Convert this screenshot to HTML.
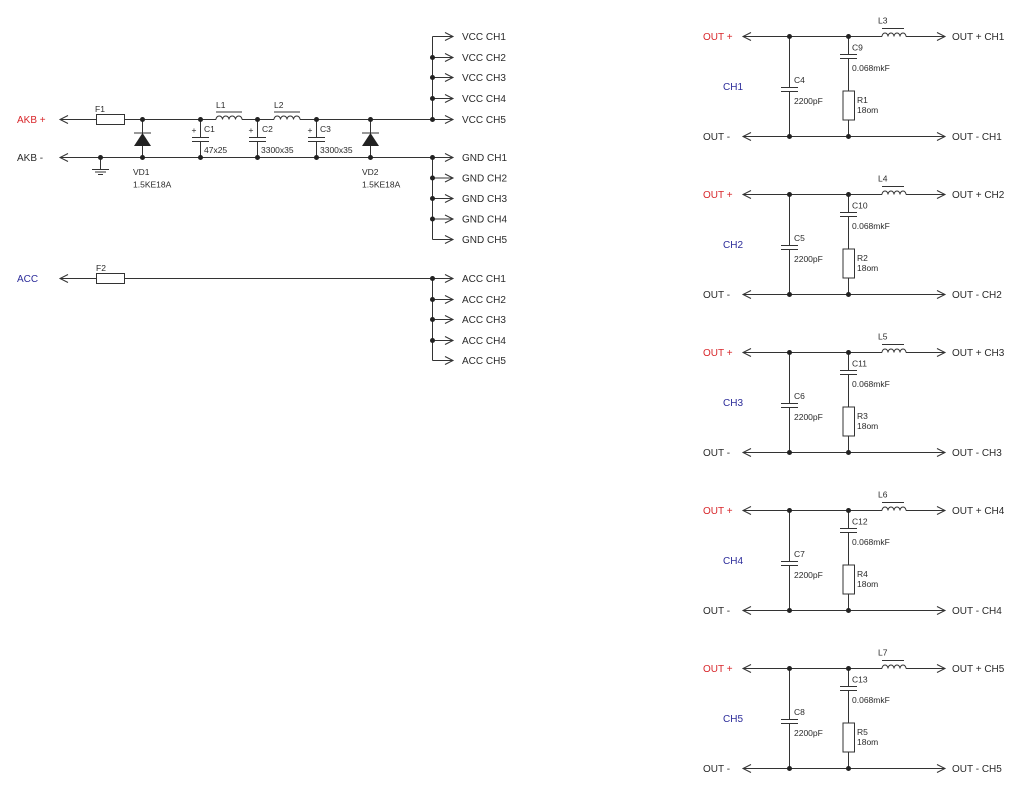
<!DOCTYPE html>
<html><head><meta charset="utf-8"><style>
html,body{margin:0;padding:0;background:#fff;}
svg{display:block;}
.t{font-family:"Liberation Sans",Arial,sans-serif;font-size:10px;fill:#2a2a2a;}
.s{font-family:"Liberation Sans",Arial,sans-serif;font-size:8.5px;fill:#2a2a2a;}
.r{fill:#d8262a;}
.b{fill:#2c2c9a;}
.w{stroke:#333;stroke-width:1;fill:none;}
.d{fill:#222;}
</style></head><body>
<svg width="1024" height="789" viewBox="0 0 1024 789" xmlns="http://www.w3.org/2000/svg">
<!-- ========== LEFT: AKB power ========== -->
<text class="t r" x="17" y="123">AKB +</text>
<text class="t" x="17" y="161">AKB -</text>
<path class="w" d="M68,115.5 L60,119.5 L68,123.5"/>
<path class="w" d="M68,153.5 L60,157.5 L68,161.5"/>
<!-- top line -->
<path class="w" d="M60,119.5 H96.5 M124.5,119.5 H216 M242,119.5 H274 M300,119.5 H432.5"/>
<rect x="96.5" y="114.5" width="28" height="10" fill="#fff" stroke="#333" stroke-width="1"/>
<text class="s" x="95" y="112">F1</text>
<!-- L1 -->
<path class="w" d="M216,119.5 a3.25,3.5 0 0 1 6.5,0 a3.25,3.5 0 0 1 6.5,0 a3.25,3.5 0 0 1 6.5,0 a3.25,3.5 0 0 1 6.5,0"/>
<path class="w" d="M216,112 H242"/>
<text class="s" x="216" y="108">L1</text>
<!-- L2 -->
<path class="w" d="M274,119.5 a3.25,3.5 0 0 1 6.5,0 a3.25,3.5 0 0 1 6.5,0 a3.25,3.5 0 0 1 6.5,0 a3.25,3.5 0 0 1 6.5,0"/>
<path class="w" d="M274,112 H300"/>
<text class="s" x="274" y="108">L2</text>
<!-- bottom line -->
<path class="w" d="M60,157.5 H432.5"/>
<!-- ground -->
<path class="w" d="M100.5,157.5 V169.5 M92,169.5 H109 M95,172 H106 M98,174.5 H103"/>
<!-- VD1 -->
<path class="w" d="M142.5,119.5 V157.5 M134,133 H151"/>
<path class="d" d="M142.5,133 L134,146 L151,146 Z"/>
<text class="s" x="133" y="175">VD1</text>
<text class="s" x="133" y="187.5">1.5KE18A</text>
<!-- VD2 -->
<path class="w" d="M370.5,119.5 V157.5 M362,133 H379"/>
<path class="d" d="M370.5,133 L362,146 L379,146 Z"/>
<text class="s" x="362" y="175">VD2</text>
<text class="s" x="362" y="187.5">1.5KE18A</text>
<!-- C1 -->
<path class="w" d="M200.5,119.5 V137.5 M192,137.5 H209 M192,141.5 H209 M200.5,141.5 V157.5"/>
<text class="s" x="194" y="133" text-anchor="middle">+</text>
<text class="s" x="204" y="132">C1</text>
<text class="s" x="204" y="153">47x25</text>
<!-- C2 -->
<path class="w" d="M257.5,119.5 V137.5 M249,137.5 H266 M249,141.5 H266 M257.5,141.5 V157.5"/>
<text class="s" x="251" y="133" text-anchor="middle">+</text>
<text class="s" x="262" y="132">C2</text>
<text class="s" x="261" y="153">3300x35</text>
<!-- C3 -->
<path class="w" d="M316.5,119.5 V137.5 M308,137.5 H325 M308,141.5 H325 M316.5,141.5 V157.5"/>
<text class="s" x="310" y="133" text-anchor="middle">+</text>
<text class="s" x="320" y="132">C3</text>
<text class="s" x="320" y="153">3300x35</text>
<!-- nodes -->
<g class="d">
<circle cx="142.5" cy="119.5" r="2.5"/><circle cx="200.5" cy="119.5" r="2.5"/><circle cx="257.5" cy="119.5" r="2.5"/><circle cx="316.5" cy="119.5" r="2.5"/><circle cx="370.5" cy="119.5" r="2.5"/>
<circle cx="100.5" cy="157.5" r="2.5"/><circle cx="142.5" cy="157.5" r="2.5"/><circle cx="200.5" cy="157.5" r="2.5"/><circle cx="257.5" cy="157.5" r="2.5"/><circle cx="316.5" cy="157.5" r="2.5"/><circle cx="370.5" cy="157.5" r="2.5"/>
</g>
<!-- VCC bus -->
<path class="w" d="M432.5,36.5 V119.5"/>
<path class="w" d="M432.5,36.5 H453 M445,32.5 L453,36.5 L445,40.5"/>
<path class="w" d="M432.5,57.5 H453 M445,53.5 L453,57.5 L445,61.5"/>
<path class="w" d="M432.5,77.5 H453 M445,73.5 L453,77.5 L445,81.5"/>
<path class="w" d="M432.5,98.5 H453 M445,94.5 L453,98.5 L445,102.5"/>
<path class="w" d="M432.5,119.5 H453 M445,115.5 L453,119.5 L445,123.5"/>
<g class="d"><circle cx="432.5" cy="57.5" r="2.5"/><circle cx="432.5" cy="77.5" r="2.5"/><circle cx="432.5" cy="98.5" r="2.5"/><circle cx="432.5" cy="119.5" r="2.5"/></g>
<text class="t" x="462" y="40">VCC CH1</text>
<text class="t" x="462" y="61">VCC CH2</text>
<text class="t" x="462" y="81">VCC CH3</text>
<text class="t" x="462" y="102">VCC CH4</text>
<text class="t" x="462" y="123">VCC CH5</text>
<!-- GND bus -->
<path class="w" d="M432.5,157.5 V239.5"/>
<path class="w" d="M432.5,157.5 H453 M445,153.5 L453,157.5 L445,161.5"/>
<path class="w" d="M432.5,178 H453 M445,174 L453,178 L445,182"/>
<path class="w" d="M432.5,198.5 H453 M445,194.5 L453,198.5 L445,202.5"/>
<path class="w" d="M432.5,219 H453 M445,215 L453,219 L445,223"/>
<path class="w" d="M432.5,239.5 H453 M445,235.5 L453,239.5 L445,243.5"/>
<g class="d"><circle cx="432.5" cy="157.5" r="2.5"/><circle cx="432.5" cy="178" r="2.5"/><circle cx="432.5" cy="198.5" r="2.5"/><circle cx="432.5" cy="219" r="2.5"/></g>
<text class="t" x="462" y="161">GND CH1</text>
<text class="t" x="462" y="181.5">GND CH2</text>
<text class="t" x="462" y="202">GND CH3</text>
<text class="t" x="462" y="222.5">GND CH4</text>
<text class="t" x="462" y="243">GND CH5</text>
<!-- ACC -->
<text class="t b" x="17" y="282">ACC</text>
<path class="w" d="M68,274.5 L60,278.5 L68,282.5"/>
<path class="w" d="M60,278.5 H96.5 M124.5,278.5 H432.5"/>
<rect x="96.5" y="273.5" width="28" height="10" fill="#fff" stroke="#333" stroke-width="1"/>
<text class="s" x="96" y="271">F2</text>
<path class="w" d="M432.5,278.5 V360.5"/>
<path class="w" d="M432.5,278.5 H453 M445,274.5 L453,278.5 L445,282.5"/>
<path class="w" d="M432.5,299.5 H453 M445,295.5 L453,299.5 L445,303.5"/>
<path class="w" d="M432.5,319.5 H453 M445,315.5 L453,319.5 L445,323.5"/>
<path class="w" d="M432.5,340.5 H453 M445,336.5 L453,340.5 L445,344.5"/>
<path class="w" d="M432.5,360.5 H453 M445,356.5 L453,360.5 L445,364.5"/>
<g class="d"><circle cx="432.5" cy="278.5" r="2.5"/><circle cx="432.5" cy="299.5" r="2.5"/><circle cx="432.5" cy="319.5" r="2.5"/><circle cx="432.5" cy="340.5" r="2.5"/></g>
<text class="t" x="462" y="282">ACC CH1</text>
<text class="t" x="462" y="303">ACC CH2</text>
<text class="t" x="462" y="323">ACC CH3</text>
<text class="t" x="462" y="344">ACC CH4</text>
<text class="t" x="462" y="364">ACC CH5</text>

<!-- ========== RIGHT: channel filters ========== -->
<!-- CH1 -->
<g transform="translate(0,0)">
<text class="t r" x="703" y="40">OUT +</text>
<path class="w" d="M751,32.5 L743,36.5 L751,40.5 M743,36.5 H882 M906,36.5 H945 M937,32.5 L945,36.5 L937,40.5"/>
<path class="w" d="M882,36.5 a3,3.5 0 0 1 6,0 a3,3.5 0 0 1 6,0 a3,3.5 0 0 1 6,0 a3,3.5 0 0 1 6,0 M882,28.5 H904"/>
<text class="s" x="878" y="23.5">L3</text>
<text class="t" x="952" y="40">OUT + CH1</text>
<path class="w" d="M789.5,36.5 V87.5 M781,87.5 H798 M781,91.5 H798 M789.5,91.5 V136.5"/>
<path class="w" d="M848.5,36.5 V54.5 M840,54.5 H857 M840,58.5 H857 M848.5,58.5 V91 M848.5,120 V136.5"/>
<rect x="843" y="91" width="11.5" height="29" fill="none" stroke="#333"/>
<text class="s" x="794" y="83">C4</text>
<text class="s" x="794" y="104">2200pF</text>
<text class="s" x="852" y="50.5">C9</text>
<text class="s" x="852" y="71">0.068mkF</text>
<text class="s" x="857" y="103">R1</text>
<text class="s" x="857" y="113">18om</text>
<text class="t b" x="723" y="90">CH1</text>
<text class="t" x="703" y="140">OUT -</text>
<path class="w" d="M751,132.5 L743,136.5 L751,140.5 M743,136.5 H945 M937,132.5 L945,136.5 L937,140.5"/>
<text class="t" x="952" y="140">OUT - CH1</text>
<g class="d"><circle cx="789.5" cy="36.5" r="2.5"/><circle cx="848.5" cy="36.5" r="2.5"/><circle cx="789.5" cy="136.5" r="2.5"/><circle cx="848.5" cy="136.5" r="2.5"/></g>
</g>
<!-- CH2 -->
<g transform="translate(0,158)">
<text class="t r" x="703" y="40">OUT +</text>
<path class="w" d="M751,32.5 L743,36.5 L751,40.5 M743,36.5 H882 M906,36.5 H945 M937,32.5 L945,36.5 L937,40.5"/>
<path class="w" d="M882,36.5 a3,3.5 0 0 1 6,0 a3,3.5 0 0 1 6,0 a3,3.5 0 0 1 6,0 a3,3.5 0 0 1 6,0 M882,28.5 H904"/>
<text class="s" x="878" y="23.5">L4</text>
<text class="t" x="952" y="40">OUT + CH2</text>
<path class="w" d="M789.5,36.5 V87.5 M781,87.5 H798 M781,91.5 H798 M789.5,91.5 V136.5"/>
<path class="w" d="M848.5,36.5 V54.5 M840,54.5 H857 M840,58.5 H857 M848.5,58.5 V91 M848.5,120 V136.5"/>
<rect x="843" y="91" width="11.5" height="29" fill="none" stroke="#333"/>
<text class="s" x="794" y="83">C5</text>
<text class="s" x="794" y="104">2200pF</text>
<text class="s" x="852" y="50.5">C10</text>
<text class="s" x="852" y="71">0.068mkF</text>
<text class="s" x="857" y="103">R2</text>
<text class="s" x="857" y="113">18om</text>
<text class="t b" x="723" y="90">CH2</text>
<text class="t" x="703" y="140">OUT -</text>
<path class="w" d="M751,132.5 L743,136.5 L751,140.5 M743,136.5 H945 M937,132.5 L945,136.5 L937,140.5"/>
<text class="t" x="952" y="140">OUT - CH2</text>
<g class="d"><circle cx="789.5" cy="36.5" r="2.5"/><circle cx="848.5" cy="36.5" r="2.5"/><circle cx="789.5" cy="136.5" r="2.5"/><circle cx="848.5" cy="136.5" r="2.5"/></g>
</g>
<!-- CH3 -->
<g transform="translate(0,316)">
<text class="t r" x="703" y="40">OUT +</text>
<path class="w" d="M751,32.5 L743,36.5 L751,40.5 M743,36.5 H882 M906,36.5 H945 M937,32.5 L945,36.5 L937,40.5"/>
<path class="w" d="M882,36.5 a3,3.5 0 0 1 6,0 a3,3.5 0 0 1 6,0 a3,3.5 0 0 1 6,0 a3,3.5 0 0 1 6,0 M882,28.5 H904"/>
<text class="s" x="878" y="23.5">L5</text>
<text class="t" x="952" y="40">OUT + CH3</text>
<path class="w" d="M789.5,36.5 V87.5 M781,87.5 H798 M781,91.5 H798 M789.5,91.5 V136.5"/>
<path class="w" d="M848.5,36.5 V54.5 M840,54.5 H857 M840,58.5 H857 M848.5,58.5 V91 M848.5,120 V136.5"/>
<rect x="843" y="91" width="11.5" height="29" fill="none" stroke="#333"/>
<text class="s" x="794" y="83">C6</text>
<text class="s" x="794" y="104">2200pF</text>
<text class="s" x="852" y="50.5">C11</text>
<text class="s" x="852" y="71">0.068mkF</text>
<text class="s" x="857" y="103">R3</text>
<text class="s" x="857" y="113">18om</text>
<text class="t b" x="723" y="90">CH3</text>
<text class="t" x="703" y="140">OUT -</text>
<path class="w" d="M751,132.5 L743,136.5 L751,140.5 M743,136.5 H945 M937,132.5 L945,136.5 L937,140.5"/>
<text class="t" x="952" y="140">OUT - CH3</text>
<g class="d"><circle cx="789.5" cy="36.5" r="2.5"/><circle cx="848.5" cy="36.5" r="2.5"/><circle cx="789.5" cy="136.5" r="2.5"/><circle cx="848.5" cy="136.5" r="2.5"/></g>
</g>
<!-- CH4 -->
<g transform="translate(0,474)">
<text class="t r" x="703" y="40">OUT +</text>
<path class="w" d="M751,32.5 L743,36.5 L751,40.5 M743,36.5 H882 M906,36.5 H945 M937,32.5 L945,36.5 L937,40.5"/>
<path class="w" d="M882,36.5 a3,3.5 0 0 1 6,0 a3,3.5 0 0 1 6,0 a3,3.5 0 0 1 6,0 a3,3.5 0 0 1 6,0 M882,28.5 H904"/>
<text class="s" x="878" y="23.5">L6</text>
<text class="t" x="952" y="40">OUT + CH4</text>
<path class="w" d="M789.5,36.5 V87.5 M781,87.5 H798 M781,91.5 H798 M789.5,91.5 V136.5"/>
<path class="w" d="M848.5,36.5 V54.5 M840,54.5 H857 M840,58.5 H857 M848.5,58.5 V91 M848.5,120 V136.5"/>
<rect x="843" y="91" width="11.5" height="29" fill="none" stroke="#333"/>
<text class="s" x="794" y="83">C7</text>
<text class="s" x="794" y="104">2200pF</text>
<text class="s" x="852" y="50.5">C12</text>
<text class="s" x="852" y="71">0.068mkF</text>
<text class="s" x="857" y="103">R4</text>
<text class="s" x="857" y="113">18om</text>
<text class="t b" x="723" y="90">CH4</text>
<text class="t" x="703" y="140">OUT -</text>
<path class="w" d="M751,132.5 L743,136.5 L751,140.5 M743,136.5 H945 M937,132.5 L945,136.5 L937,140.5"/>
<text class="t" x="952" y="140">OUT - CH4</text>
<g class="d"><circle cx="789.5" cy="36.5" r="2.5"/><circle cx="848.5" cy="36.5" r="2.5"/><circle cx="789.5" cy="136.5" r="2.5"/><circle cx="848.5" cy="136.5" r="2.5"/></g>
</g>
<!-- CH5 -->
<g transform="translate(0,632)">
<text class="t r" x="703" y="40">OUT +</text>
<path class="w" d="M751,32.5 L743,36.5 L751,40.5 M743,36.5 H882 M906,36.5 H945 M937,32.5 L945,36.5 L937,40.5"/>
<path class="w" d="M882,36.5 a3,3.5 0 0 1 6,0 a3,3.5 0 0 1 6,0 a3,3.5 0 0 1 6,0 a3,3.5 0 0 1 6,0 M882,28.5 H904"/>
<text class="s" x="878" y="23.5">L7</text>
<text class="t" x="952" y="40">OUT + CH5</text>
<path class="w" d="M789.5,36.5 V87.5 M781,87.5 H798 M781,91.5 H798 M789.5,91.5 V136.5"/>
<path class="w" d="M848.5,36.5 V54.5 M840,54.5 H857 M840,58.5 H857 M848.5,58.5 V91 M848.5,120 V136.5"/>
<rect x="843" y="91" width="11.5" height="29" fill="none" stroke="#333"/>
<text class="s" x="794" y="83">C8</text>
<text class="s" x="794" y="104">2200pF</text>
<text class="s" x="852" y="50.5">C13</text>
<text class="s" x="852" y="71">0.068mkF</text>
<text class="s" x="857" y="103">R5</text>
<text class="s" x="857" y="113">18om</text>
<text class="t b" x="723" y="90">CH5</text>
<text class="t" x="703" y="140">OUT -</text>
<path class="w" d="M751,132.5 L743,136.5 L751,140.5 M743,136.5 H945 M937,132.5 L945,136.5 L937,140.5"/>
<text class="t" x="952" y="140">OUT - CH5</text>
<g class="d"><circle cx="789.5" cy="36.5" r="2.5"/><circle cx="848.5" cy="36.5" r="2.5"/><circle cx="789.5" cy="136.5" r="2.5"/><circle cx="848.5" cy="136.5" r="2.5"/></g>
</g>
</svg>
</body></html>
